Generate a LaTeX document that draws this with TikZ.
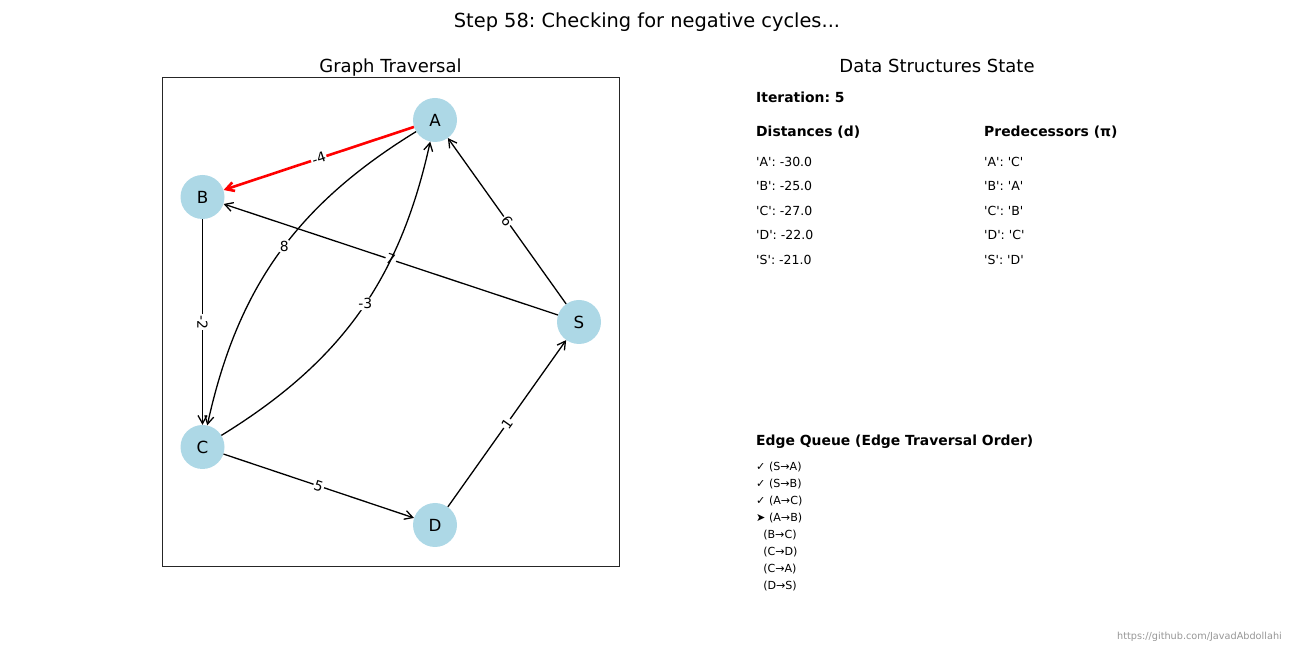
\documentclass[tikz,border=0pt]{standalone}
\usepackage{fontspec}
\setmainfont{DejaVu Sans}[Ligatures=TeXOff]
\usetikzlibrary{arrows.meta}
\definecolor{nodeblue}{RGB}{173,216,230}
\definecolor{wmgray}{RGB}{150,150,150}
\frenchspacing
\begin{document}
\begin{tikzpicture}[x=1pt,y=1pt,
  vtx/.style={circle,fill=nodeblue,minimum size=44pt,inner sep=0pt,font=\fontsize{16.7}{16.7}\selectfont},
  edg/.style={draw=black,line width=1.3pt,-{Straight Barb[length=8pt,width=9pt]}},
  hl/.style={draw=red,line width=2.6pt,-{Straight Barb[length=8pt,width=9pt]}},
  elab/.style={fill=white,inner sep=1pt,rounded corners=2pt,font=\fontsize{13.9}{13.9}\selectfont},
  ttl/.style={inner sep=0pt,text height=14pt,text depth=0pt,font=\fontsize{19.4}{19.4}\selectfont},
  subttl/.style={inner sep=0pt,text height=13pt,text depth=0pt,font=\fontsize{18}{18}\selectfont},
  hdr/.style={anchor=west,inner sep=0pt,text height=10.1pt,text depth=0pt,font=\fontsize{13.9}{13.9}\selectfont\bfseries},
  row/.style={anchor=west,inner sep=0pt,text height=9.1pt,text depth=0pt,font=\fontsize{12.5}{12.5}\selectfont},
  qrow/.style={anchor=west,inner sep=0pt,text height=8.1pt,text depth=0pt,font=\fontsize{11.1}{11.1}\selectfont},
  wmark/.style={anchor=east,inner sep=0pt,text height=7pt,text depth=0pt,text=wmgray,font=\fontsize{9.7}{9.7}\selectfont}]
\useasboundingbox (0,0) rectangle (1296,648);
% titles
\node[ttl] (title) at (647,627) {Step 58: Checking for negative cycles...};
\node[subttl] (gt) at (390.5,582) {Graph Traversal};
\node[subttl] (ds) at (937,582) {Data Structures State};
% axes frame
\draw[line width=1pt,draw=black!85] (162,81) rectangle (619,570);
% nodes
\node[vtx] (A) at (435,528) {A};
\node[vtx] (B) at (202.5,451) {B};
\node[vtx] (C) at (202.5,201) {C};
\node[vtx] (D) at (435,123) {D};
\node[vtx] (S) at (579,326) {S};
% edges
\draw[edg] (S) -- node[elab,sloped] {6} (A);
\draw[edg] (S) -- node[elab,sloped] {7} (B);
\draw[edg] (A) to[bend right=23] node[elab,pos=0.47] {8} (C);
\draw[edg] (C) to[bend right=23] node[elab,pos=0.53] {-3} (A);
\draw[edg] (B) -- node[elab,sloped] {-2} (C);
\draw[edg] (C) -- node[elab,sloped] {5} (D);
\draw[edg] (D) -- node[elab,sloped] {1} (S);
\draw[hl] (A) -- node[elab,sloped] {-4} (B);
% data structures
\node[hdr] (it) at (756,551) {Iteration: 5};
\node[hdr] (dh) at (756,517) {Distances (d)};
\node[hdr] (ph) at (984,517) {Predecessors (π)};
\node[row] (d1) at (756,486) {'A': -30.0};
\node[row] (d2) at (756,462) {'B': -25.0};
\node[row] (d3) at (756,437) {'C': -27.0};
\node[row] (d4) at (756,413) {'D': -22.0};
\node[row] (d5) at (756,388) {'S': -21.0};
\node[row] (p1) at (984,486) {'A': 'C'};
\node[row] (p2) at (984,462) {'B': 'A'};
\node[row] (p3) at (984,437) {'C': 'B'};
\node[row] (p4) at (984,413) {'D': 'C'};
\node[row] (p5) at (984,388) {'S': 'D'};
\node[hdr] (eq) at (756,208) {Edge Queue (Edge Traversal Order)};
\node[qrow] (q1) at (756,182) {✓ (S→A)};
\node[qrow] (q2) at (756,165) {✓ (S→B)};
\node[qrow] (q3) at (756,148) {✓ (A→C)};
\node[qrow] (q4) at (756,131) {➤ (A→B)};
\node[qrow] (q5) at (756,114) {\ \ (B→C)};
\node[qrow] (q6) at (756,97) {\ \ (C→D)};
\node[qrow] (q7) at (756,80) {\ \ (C→A)};
\node[qrow] (q8) at (756,63) {\ \ (D→S)};
\node[wmark] (wm) at (1282,12) {https://github.com/JavadAbdollahi};
\end{tikzpicture}
\end{document}
